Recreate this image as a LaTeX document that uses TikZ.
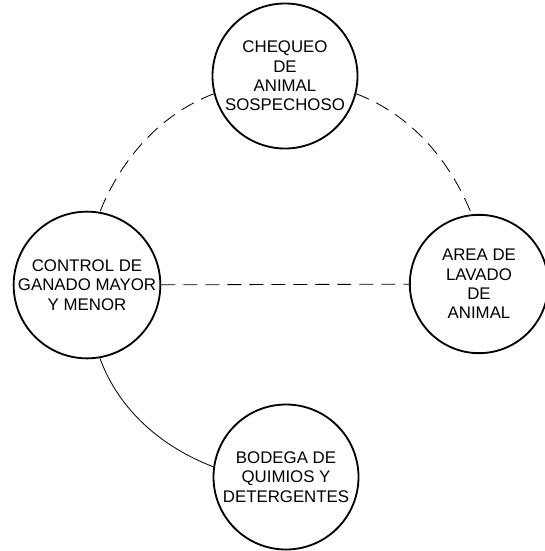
\documentclass[tikz,border=0pt]{standalone}
\usepackage{fontspec}
\setmainfont{Liberation Sans}
\begin{document}
\begin{tikzpicture}[x=0.6pt,y=-0.6pt,
    area/.style={draw,circle,line width=1.1pt,minimum size=87pt,inner sep=0pt,
      align=center,font=\fontsize{10.1}{11.6}\selectfont},
    enlace/.style={line width=0.5pt,dash pattern=on 8.4pt off 4.8pt},
    liga/.style={line width=0.5pt}]
      \useasboundingbox (0,0) rectangle (545,551);
      \node[area] (Chequeo) at (285,76){CHEQUEO\\DE\\ANIMAL\\SOSPECHOSO};
      \node[area] (Control) at (87,285){CONTROL DE\\GANADO MAYOR\\Y MENOR};
      \node[area,minimum size=83pt] (Lavado) at (479,284){AREA DE\\LAVADO\\DE\\ANIMAL};
      \node[area] (Bodega) at (286,477){BODEGA DE\\QUIMIOS Y\\DETERGENTES};

      \draw (Chequeo.194) edge[enlace,out=201,in=68,looseness=0.9] (Control.80);
      \draw (Chequeo.346) edge[enlace,out=339,in=112,looseness=0.9] (Lavado.96);
      \draw (Control) edge[enlace] (Lavado);
      \draw (Control.280) edge[liga,out=290,in=159,looseness=0.9] (Bodega.172);
    \end{tikzpicture}
\end{document}
